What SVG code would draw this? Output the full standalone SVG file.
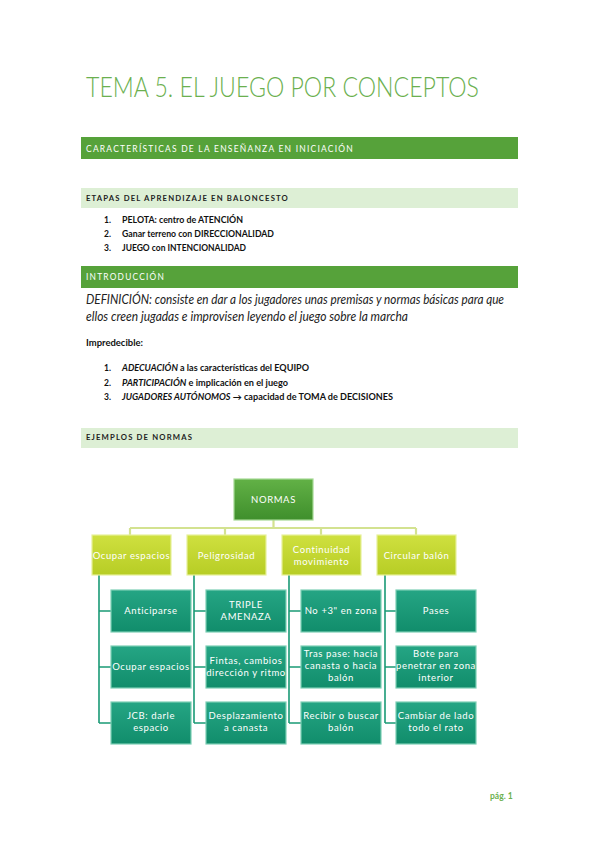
<svg xmlns="http://www.w3.org/2000/svg" width="599" height="848" viewBox="0 0 599 848">
<defs>
<linearGradient id="gTop" x1="0" y1="0" x2="0" y2="1"><stop offset="0" stop-color="#62b146"/><stop offset="1" stop-color="#3f8f2c"/></linearGradient>
<linearGradient id="gMid" x1="0" y1="0" x2="0" y2="1"><stop offset="0" stop-color="#cfe03f"/><stop offset="1" stop-color="#b7cd25"/></linearGradient>
<linearGradient id="gLow" x1="0" y1="0" x2="0" y2="1"><stop offset="0" stop-color="#25a584"/><stop offset="1" stop-color="#118d6b"/></linearGradient>
</defs>
<style>
.t{font-family:Lato,"Liberation Sans",sans-serif}
.hdr{font-family:Lato,"Liberation Sans",sans-serif;font-size:9.5px;fill:#ffffff;letter-spacing:1.4px}
.sub{font-family:Lato,"Liberation Sans",sans-serif;font-size:8px;font-weight:bold;fill:#222;letter-spacing:1.2px}
.li{font-family:Lato,"Liberation Sans",sans-serif;font-size:8.5px;font-weight:bold;fill:#111}
.dark{fill:#56a23a}
.light{fill:#ddefd5}
.top{fill:url(#gTop);stroke:#a6d995;stroke-width:1.2}
.mid{fill:url(#gMid);stroke:#e6f09a;stroke-width:1.2}
.low{fill:url(#gLow);stroke:#7ccfb5;stroke-width:1.2}
.lab{font-family:Lato,"Liberation Sans",sans-serif;font-size:9.5px;fill:#ffffff;text-anchor:middle;letter-spacing:0.6px}
.c1{stroke:#d3e290;stroke-width:2.2;fill:none}
.c2{stroke:#1a9a76;stroke-width:1.6;fill:none}
</style>
<rect width="599" height="848" fill="#ffffff"/>
<text class="t" x="86" y="97" font-size="26.5" font-weight="300" fill="#6bb04f" textLength="393" lengthAdjust="spacingAndGlyphs">TEMA 5. EL JUEGO POR CONCEPTOS</text>

<rect class="dark" x="81" y="137" width="437" height="22"/>
<text class="hdr" x="86" y="152" textLength="268" lengthAdjust="spacingAndGlyphs">CARACTERÍSTICAS DE LA ENSEÑANZA EN INICIACIÓN</text>

<rect class="light" x="81" y="188" width="437" height="20"/>
<text class="sub" x="86" y="201" textLength="203" lengthAdjust="spacingAndGlyphs">ETAPAS DEL APRENDIZAJE EN BALONCESTO</text>

<text class="li" x="104" y="223">1.</text><text class="li" x="122" y="223" textLength="121" lengthAdjust="spacingAndGlyphs">PELOTA: centro de ATENCIÓN</text>
<text class="li" x="104" y="237">2.</text><text class="li" x="122" y="237" textLength="152" lengthAdjust="spacingAndGlyphs">Ganar terreno con DIRECCIONALIDAD</text>
<text class="li" x="104" y="251">3.</text><text class="li" x="122" y="251" textLength="124" lengthAdjust="spacingAndGlyphs">JUEGO con INTENCIONALIDAD</text>

<rect class="dark" x="81" y="266" width="437" height="22"/>
<text class="hdr" x="86" y="280" textLength="79" lengthAdjust="spacingAndGlyphs">INTRODUCCIÓN</text>

<text class="t" x="86" y="304" font-size="13" font-style="italic" fill="#222" textLength="418" lengthAdjust="spacingAndGlyphs">DEFINICIÓN: consiste en dar a los jugadores unas premisas y normas básicas para que</text>
<text class="t" x="86" y="321" font-size="13" font-style="italic" fill="#222" textLength="322" lengthAdjust="spacingAndGlyphs">ellos creen jugadas e improvisen leyendo el juego sobre la marcha</text>

<text class="li" x="86" y="346" font-size="8" textLength="57" lengthAdjust="spacingAndGlyphs">Impredecible:</text>

<text class="li" x="104" y="371">1.</text><text class="li" x="122" y="371" textLength="187" lengthAdjust="spacingAndGlyphs"><tspan font-style="italic">ADECUACIÓN</tspan> a las características del EQUIPO</text>
<text class="li" x="104" y="386">2.</text><text class="li" x="122" y="386" textLength="166" lengthAdjust="spacingAndGlyphs"><tspan font-style="italic">PARTICIPACIÓN</tspan> e implicación en el juego</text>
<text class="li" x="104" y="400">3.</text><text class="li" x="122" y="400" textLength="271" lengthAdjust="spacingAndGlyphs"><tspan font-style="italic">JUGADORES AUTÓNOMOS</tspan> → capacidad de TOMA de DECISIONES</text>

<rect class="light" x="81" y="428" width="437" height="20"/>
<text class="sub" x="86" y="440" textLength="107" lengthAdjust="spacingAndGlyphs">EJEMPLOS DE NORMAS</text>

<g id="connectors">
<path class="c1" d="M273.5 520 V528 M130 528 H416 M130 528 V535 M225 528 V535 M321 528 V535 M416 528 V535"/>
<path class="c2" d="M99 575 V723 M99 611 H111 M99 667 H111 M99 723 H111"/>
<path class="c2" d="M194 575 V723 M194 611 H206 M194 667 H206 M194 723 H206"/>
<path class="c2" d="M289 575 V723 M289 611 H301 M289 667 H301 M289 723 H301"/>
<path class="c2" d="M385 575 V723 M385 611 H396 M385 667 H396 M385 723 H396"/>
</g>

<g id="normas"><rect class="top" x="234" y="479" width="79" height="41"/><text class="lab" x="273.5" y="503">NORMAS</text></g>

<g id="ocupar"><rect class="mid" x="92" y="535" width="79" height="40"/><text class="lab" x="131.5" y="559" letter-spacing="0.3">Ocupar espacios</text></g>
<g id="peligrosidad"><rect class="mid" x="187" y="535" width="79" height="40"/><text class="lab" x="226.5" y="559">Peligrosidad</text></g>
<g id="continuidad"><rect class="mid" x="282" y="535" width="79" height="40"/><text class="lab" x="321.5" y="553">Continuidad</text><text class="lab" x="321.5" y="565">movimiento</text></g>
<g id="circular"><rect class="mid" x="377" y="535" width="79" height="40"/><text class="lab" x="416.5" y="559">Circular balón</text></g>

<g id="anticiparse"><rect class="low" x="111" y="590" width="80" height="42"/><text class="lab" x="151" y="614">Anticiparse</text></g>
<g id="ocupar2"><rect class="low" x="111" y="646" width="80" height="42"/><text class="lab" x="151" y="670" letter-spacing="0.2">Ocupar espacios</text></g>
<g id="jcb"><rect class="low" x="111" y="702" width="80" height="42"/><text class="lab" x="151" y="719">JCB: darle</text><text class="lab" x="151" y="731">espacio</text></g>

<g id="triple"><rect class="low" x="206" y="590" width="80" height="42"/><text class="lab" x="246" y="608">TRIPLE</text><text class="lab" x="246" y="620">AMENAZA</text></g>
<g id="fintas"><rect class="low" x="206" y="646" width="80" height="42"/><text class="lab" x="246" y="664" letter-spacing="0.2">Fintas, cambios</text><text class="lab" x="246" y="676" letter-spacing="0.1">dirección y ritmo</text></g>
<g id="desplazamiento"><rect class="low" x="206" y="702" width="80" height="42"/><text class="lab" x="246" y="719" letter-spacing="0.2">Desplazamiento</text><text class="lab" x="246" y="731">a canasta</text></g>

<g id="no3"><rect class="low" x="301" y="590" width="80" height="42"/><text class="lab" x="341" y="614" letter-spacing="0.2">No +3" en zona</text></g>
<g id="traspase"><rect class="low" x="301" y="646" width="80" height="42"/><text class="lab" x="341" y="657" letter-spacing="0.2">Tras pase: hacia</text><text class="lab" x="341" y="669" letter-spacing="0.2">canasta o hacia</text><text class="lab" x="341" y="681">balón</text></g>
<g id="recibir"><rect class="low" x="301" y="702" width="80" height="42"/><text class="lab" x="341" y="719" letter-spacing="0.2">Recibir o buscar</text><text class="lab" x="341" y="731">balón</text></g>

<g id="pases"><rect class="low" x="396" y="590" width="80" height="42"/><text class="lab" x="436" y="614">Pases</text></g>
<g id="bote"><rect class="low" x="396" y="646" width="80" height="42"/><text class="lab" x="436" y="657">Bote para</text><text class="lab" x="436" y="669" letter-spacing="0.2">penetrar en zona</text><text class="lab" x="436" y="681">interior</text></g>
<g id="cambiar"><rect class="low" x="396" y="702" width="80" height="42"/><text class="lab" x="436" y="719" letter-spacing="0.2">Cambiar de lado</text><text class="lab" x="436" y="731">todo el rato</text></g>

<text class="t" x="490" y="799" font-size="8.5" font-weight="bold" fill="#6bb04f">pág. 1</text>
</svg>
